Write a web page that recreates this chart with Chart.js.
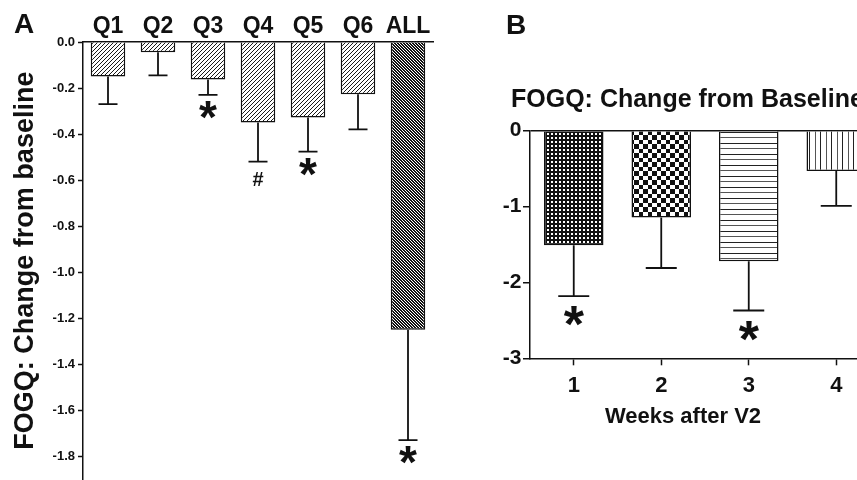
<!DOCTYPE html>
<html>
<head>
<meta charset="utf-8">
<script src="https://cdn.jsdelivr.net/npm/chart.js@4.4.1/dist/chart.umd.min.js"></script>
<style>
  html, body { margin: 0; padding: 0; overflow: hidden; background: #fff; width: 857px; height: 480px; }
  .panel { position: absolute; top: 0; }
</style>
</head>
<body>
<div class="panel" style="left:0;width:440px;height:490px"><canvas id="chartA"></canvas></div>
<div class="panel" style="left:490px;width:390px;height:480px"><canvas id="chartB"></canvas></div>
<script>
// panel A: change per question
const questions = ['Q1', 'Q2', 'Q3', 'Q4', 'Q5', 'Q6', 'ALL'];
const changeA = [-0.15, -0.045, -0.163, -0.35, -0.328, -0.227, -1.25];
const semA = [0.12, 0.10, 0.067, 0.17, 0.148, 0.153, 0.48];
const markA = ['', '', '*', '#', '*', '', '*'];

// panel B: change per week
const weeks = ['1', '2', '3', '4'];
const changeB = [-1.51, -1.145, -1.72, -0.53];
const semB = [0.67, 0.665, 0.65, 0.46];
const markB = ['*', '', '*', ''];

const FONT = '"Liberation Sans", Arial, sans-serif';
const INK = '#111';
Chart.defaults.font.family = FONT;
Chart.defaults.color = INK;

function tile(w, h, bg, draw) {
  const c = document.createElement('canvas');
  c.width = w;
  c.height = h;
  const g = c.getContext('2d');
  g.fillStyle = bg;
  g.fillRect(0, 0, w, h);
  draw(g);
  return g.createPattern(c, 'repeat');
}

const hatchLight = tile(4, 4, '#fff', (g) => {
  g.fillStyle = '#1a1a1a';
  for (let i = 0; i < 4; i++) g.fillRect(i, 3 - i, 1, 1);
});
const hatchDark = tile(3, 3, '#fff', (g) => {
  g.fillStyle = '#111';
  for (let i = 0; i < 3; i++) {
    g.fillRect(i, i, 1, 1);
    g.fillRect((i + 1) % 3, i, 1, 1);
  }
});
const dots = tile(4, 4, '#111', (g) => {
  g.fillStyle = '#fff';
  g.fillRect(1, 1, 2, 2);
});
const checker = tile(9, 9, '#fff', (g) => {
  g.fillStyle = '#111';
  g.fillRect(0, 0, 5, 5);
  g.fillRect(5, 5, 4, 4);
});
const hLines = tile(4, 11, '#fff', (g) => {
  g.fillStyle = '#222';
  g.fillRect(0, 0, 4, 1);
  g.fillStyle = '#555';
  g.fillRect(0, 5, 4, 1);
});
const vLines = tile(11, 4, '#fff', (g) => {
  g.fillStyle = '#222';
  g.fillRect(0, 0, 1, 4);
  g.fillStyle = '#555';
  g.fillRect(6, 0, 1, 4);
});

// error bars (downward only) + significance marks
const errBars = {
  id: 'errBars',
  afterDatasetsDraw(chart, args, opts) {
    const ctx = chart.ctx;
    const meta = chart.getDatasetMeta(0);
    const vals = chart.data.datasets[0].data;
    const y = chart.scales.y;
    ctx.save();
    ctx.strokeStyle = INK;
    ctx.lineWidth = opts.lineWidth;
    ctx.fillStyle = INK;
    ctx.textAlign = 'center';
    ctx.textBaseline = 'alphabetic';
    meta.data.forEach((bar, i) => {
      const end = y.getPixelForValue(vals[i] - opts.errors[i]);
      ctx.beginPath();
      ctx.moveTo(bar.x, bar.y);
      ctx.lineTo(bar.x, end);
      ctx.moveTo(bar.x - opts.cap / 2, end);
      ctx.lineTo(bar.x + opts.cap / 2, end);
      ctx.stroke();
      const m = opts.marks[i];
      if (m) {
        const size = m === '#' ? opts.hashSize : opts.starSize;
        const off = m === '#' ? opts.hashOffset : opts.starOffset;
        ctx.font = `bold ${size}px ${FONT}`;
        const tm = ctx.measureText(m);
        const cy = end + off;
        ctx.fillText(m, bar.x, cy + (tm.actualBoundingBoxAscent - tm.actualBoundingBoxDescent) / 2);
      }
    });
    ctx.restore();
  },
};

// panel letters, titles and loose captions
const panelText = {
  id: 'panelText',
  afterDraw(chart, args, opts) {
    const ctx = chart.ctx;
    ctx.save();
    ctx.fillStyle = INK;
    ctx.textBaseline = 'alphabetic';
    (opts.items || []).forEach((it) => {
      ctx.textAlign = it.align || 'center';
      ctx.font = `bold ${it.size}px ${FONT}`;
      ctx.fillText(it.text, it.x, it.y);
    });
    ctx.restore();
  },
};

const chartA = new Chart(document.getElementById('chartA'), {
  type: 'bar',
  data: {
    labels: questions,
    datasets: [{
      data: changeA,
      backgroundColor: questions.map((q) => (q === 'ALL' ? hatchDark : hatchLight)),
      borderColor: INK,
      borderWidth: 1.5,
      barPercentage: 0.69,
      categoryPercentage: 1,
    }],
  },
  options: {
    responsive: true,
    maintainAspectRatio: false,
    animation: false,
    layout: { padding: { left: 0, right: 7, top: 0, bottom: 7 }, autoPadding: false },
    plugins: {
      legend: { display: false },
      tooltip: { enabled: false },
      errBars: { errors: semA, marks: markA, cap: 19, lineWidth: 1.8, starSize: 46, starOffset: 15, hashSize: 20, hashOffset: 17 },
      panelText: { items: [{ text: 'A', x: 24, y: 33, size: 28 }] },
    },
    scales: {
      x: {
        position: 'top',
        offset: true,
        grid: { drawOnChartArea: false, drawTicks: false },
        border: { color: INK, width: 1.5 },
        ticks: { padding: 2, maxRotation: 0, minRotation: 0, autoSkip: false, color: INK, font: { size: 23, weight: 'bold' } },
        afterFit: (s) => { s.height = 42; },
      },
      y: {
        min: -1.9,
        max: 0,
        ticks: {
          stepSize: 0.2,
          padding: 3,
          color: INK,
          font: { size: 13, weight: 'bold' },
          callback: (v) => v.toFixed(1),
        },
        afterBuildTicks: (s) => {
          s.ticks = s.ticks.filter((t) => Math.abs(t.value / 0.2 - Math.round(t.value / 0.2)) < 1e-6);
        },
        grid: { drawOnChartArea: false, tickLength: 5, tickColor: INK, tickWidth: 1.5 },
        border: { color: INK, width: 1.5 },
        title: {
          display: true,
          text: 'FOGQ: Change from baseline',
          color: INK,
          font: { size: 27, weight: 'bold' },
          padding: { top: 9, bottom: 0 },
        },
        afterFit: (s) => { s.width = 83; },
      },
    },
  },
  plugins: [errBars, panelText],
});

const chartB = new Chart(document.getElementById('chartB'), {
  type: 'bar',
  data: {
    labels: weeks,
    datasets: [{
      data: changeB,
      backgroundColor: [dots, checker, hLines, vLines],
      borderColor: INK,
      borderWidth: 1.5,
      barPercentage: 0.68,
      categoryPercentage: 1,
    }],
  },
  options: {
    responsive: true,
    maintainAspectRatio: false,
    animation: false,
    layout: { padding: { left: 0, right: 0, top: 130.7, bottom: 0 }, autoPadding: false },
    plugins: {
      legend: { display: false },
      tooltip: { enabled: false },
      errBars: { errors: semB, marks: markB, cap: 31, lineWidth: 1.8, starSize: 52, starOffset: 20, hashSize: 20, hashOffset: 20 },
      panelText: {
        items: [
          { text: 'B', x: 26, y: 34, size: 28 },
          { text: 'FOGQ: Change from Baseline', x: 21, y: 107, size: 25, align: 'left' },
          { text: 'Weeks after V2', x: 193, y: 423, size: 22 },
        ],
      },
    },
    scales: {
      x: {
        offset: true,
        grid: { offset: false, drawOnChartArea: false, tickLength: 7, tickColor: INK, tickWidth: 1.5 },
        border: { color: INK, width: 1.5 },
        ticks: { padding: 7, maxRotation: 0, color: INK, font: { size: 22, weight: 'bold' } },
        afterFit: (s) => { s.height = 121.7; },
      },
      y: {
        min: -3,
        max: 0,
        ticks: { stepSize: 1, padding: 1.5, color: INK, font: { size: 21, weight: 'bold' } },
        grid: {
          color: (c) => (c.tick && c.tick.value === 0 ? INK : 'rgba(0,0,0,0)'),
          lineWidth: 1.5,
          tickLength: 7,
          tickColor: INK,
          tickWidth: 1.5,
        },
        border: { color: INK, width: 1.5 },
        afterFit: (s) => { s.width = 40; },
      },
    },
  },
  plugins: [errBars, panelText],
});
</script>
</body>
</html>
